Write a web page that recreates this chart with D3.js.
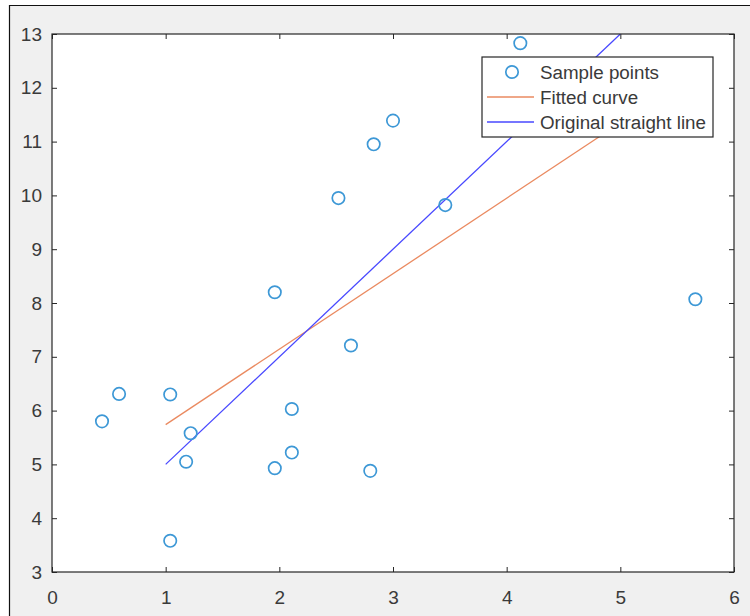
<!DOCTYPE html>
<html>
<head>
<meta charset="utf-8">
<script src="https://cdn.jsdelivr.net/npm/d3@7"></script>
<style>
  body { margin: 0; background: #fff; }
  svg { display: block; font-family: "Liberation Sans", Arial, sans-serif; }
</style>
</head>
<body>
<svg id="chart"></svg>
<script>
// sample points
let sampleX = [0.44, 0.59, 1.04, 1.22, 1.18, 1.04, 1.96, 2.11, 2.11, 3.00, 2.83, 2.52, 3.46, 1.96, 2.63, 2.80, 4.12, 5.66];
let sampleY = [5.80, 6.31, 6.30, 5.58, 5.05, 3.58, 4.93, 5.22, 6.03, 11.39, 10.95, 9.95, 9.82, 8.20, 7.21, 4.88, 12.83, 8.07];

// the two lines
let lineX = [1, 5];
let fittedY = [5.74, 11.35];
let originalY = [5, 13];

let xTicks = [0, 1, 2, 3, 4, 5, 6];
let yTicks = [3, 4, 5, 6, 7, 8, 9, 10, 11, 12, 13];
let legendLabels = ["Sample points", "Fitted curve", "Original straight line"];

// sizes
let widthSVG = 750;
let heightSVG = 616;
let plot = { left: 52, right: 734, top: 34, bottom: 572 };

let SVG = d3.select('svg#chart')
            .attr('width', widthSVG)
            .attr('height', heightSVG);

// figure background with the window edge
SVG.append('rect')
   .attr('x', 9).attr('y', 5)
   .attr('width', widthSVG - 9).attr('height', heightSVG - 5)
   .style('fill', '#f0f0f0');
SVG.append('line')
   .attr('x1', 9).attr('x2', widthSVG).attr('y1', 5.5).attr('y2', 5.5)
   .style('stroke', '#111').style('stroke-width', 1.2);
SVG.append('line')
   .attr('x1', 9.5).attr('x2', 9.5).attr('y1', 5).attr('y2', heightSVG)
   .style('stroke', '#111').style('stroke-width', 1.2);

// scales
let x = d3.scaleLinear().domain([0, 6]).range([plot.left, plot.right]);
let y = d3.scaleLinear().domain([3, 13]).range([plot.bottom, plot.top]);

// white axes area
SVG.append('rect')
   .attr('x', plot.left).attr('y', plot.top)
   .attr('width', plot.right - plot.left).attr('height', plot.bottom - plot.top)
   .style('fill', '#fff');

let axisColor = '#262626';
let labelColor = '#3a3a3a';

// axes, ticks pointing inwards
let bottomAxis = d3.axisBottom(x).tickValues(xTicks).tickSize(-5).tickPadding(19).tickFormat(d3.format('d'));
let topAxis = d3.axisTop(x).tickValues(xTicks).tickSize(-5).tickFormat('');
let leftAxis = d3.axisLeft(y).tickValues(yTicks).tickSize(-5).tickPadding(10).tickFormat(d3.format('d'));
let rightAxis = d3.axisRight(y).tickValues(yTicks).tickSize(-5).tickFormat('');

function styleAxis(g) {
  g.select('.domain').remove();
  g.selectAll('.tick line').style('stroke', axisColor).style('stroke-width', 1);
  g.selectAll('.tick text')
   .style('fill', labelColor)
   .style('font-size', '19px')
   .style('font-family', '"Liberation Sans", Arial, sans-serif');
}

SVG.append('g').attr('transform', `translate(0, ${plot.bottom})`).call(bottomAxis).call(styleAxis);
SVG.append('g').attr('transform', `translate(0, ${plot.top})`).call(topAxis).call(styleAxis);
SVG.append('g').attr('transform', `translate(${plot.left}, 0)`).call(leftAxis).call(styleAxis);
SVG.append('g').attr('transform', `translate(${plot.right}, 0)`).call(rightAxis).call(styleAxis);

// clip so lines stay in the box
SVG.append('clipPath').attr('id', 'plotClip')
   .append('rect')
   .attr('x', plot.left).attr('y', plot.top)
   .attr('width', plot.right - plot.left).attr('height', plot.bottom - plot.top);

let plotG = SVG.append('g').attr('clip-path', 'url(#plotClip)');

let lineGen = d3.line().x(d => x(d[0])).y(d => y(d[1]));

let fitColor = '#ea8a60';
let origColor = '#4848ff';
let pointColor = '#3d98d6';

plotG.append('path')
     .datum(lineX.map((v, i) => [v, fittedY[i]]))
     .attr('d', lineGen)
     .style('fill', 'none')
     .style('stroke', fitColor)
     .style('stroke-width', 1.3);

plotG.append('path')
     .datum(lineX.map((v, i) => [v, originalY[i]]))
     .attr('d', lineGen)
     .style('fill', 'none')
     .style('stroke', origColor)
     .style('stroke-width', 1.3);

SVG.append('g').selectAll('circle')
   .data(sampleX.map((v, i) => [v, sampleY[i]]))
   .enter()
   .append('circle')
   .attr('cx', d => x(d[0]))
   .attr('cy', d => y(d[1]))
   .attr('r', 6.2)
   .style('fill', 'none')
   .style('stroke', pointColor)
   .style('stroke-width', 1.7);

// box border on top
SVG.append('rect')
   .attr('x', plot.left).attr('y', plot.top)
   .attr('width', plot.right - plot.left).attr('height', plot.bottom - plot.top)
   .style('fill', 'none')
   .style('stroke', axisColor)
   .style('stroke-width', 1.2);

// legend
let legend = SVG.append('g').attr('transform', 'translate(482, 57)');
legend.append('rect')
      .attr('width', 231).attr('height', 80)
      .style('fill', '#fff')
      .style('stroke', axisColor)
      .style('stroke-width', 1.2);

let rowY = [15, 40, 65];
let legendRows = legend.selectAll('g.legendRow')
      .data(legendLabels)
      .enter()
      .append('g')
      .attr('class', 'legendRow')
      .attr('transform', (d, i) => `translate(0, ${rowY[i]})`);

legendRows.filter((d, i) => i === 0)
      .append('circle')
      .attr('cx', 30).attr('r', 6.2)
      .style('fill', 'none')
      .style('stroke', pointColor)
      .style('stroke-width', 1.7);

legendRows.filter((d, i) => i > 0)
      .append('line')
      .attr('x1', 5).attr('x2', 52)
      .style('stroke', (d, i) => i === 0 ? fitColor : origColor)
      .style('stroke-width', 1.3);

legendRows.append('text')
      .text(d => d)
      .attr('x', 58)
      .attr('dy', '0.35em')
      .style('fill', labelColor)
      .style('font-size', '18.8px');
</script>
</body>
</html>
